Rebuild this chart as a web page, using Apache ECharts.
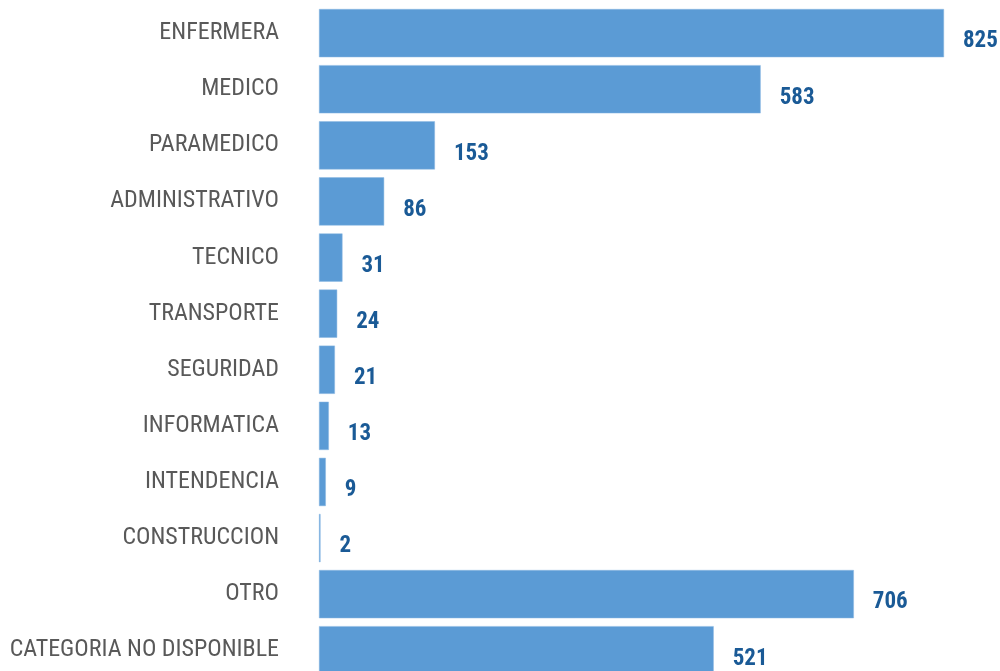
<!DOCTYPE html>
<html>
<head>
<meta charset="utf-8">
<script src="https://cdn.jsdelivr.net/npm/echarts@6/dist/echarts.min.js"></script>
<style>html,body{margin:0;padding:0;background:#fff}#c{width:1000px;height:671px}</style>
</head>
<body>
<div id="c"></div>
<script>
const categories = ["ENFERMERA","MEDICO","PARAMEDICO","ADMINISTRATIVO","TECNICO","TRANSPORTE","SEGURIDAD","INFORMATICA","INTENDENCIA","CONSTRUCCION","OTRO","CATEGORIA NO DISPONIBLE"];
const values = [825,583,153,86,31,24,21,13,9,2,706,521];

const FONT = "'Roboto Condensed','Liberation Sans Narrow','DejaVu Sans Condensed',Roboto,sans-serif";
const chart = echarts.init(document.getElementById('c'), null, {renderer:'canvas'});
chart.setOption({
  animation:false,
  grid:{left:319, width:625, top:5.1, height:673.2, containLabel:false, outerBoundsMode:'none'},
  xAxis:{type:'value', min:0, max:825, show:false},
  yAxis:{type:'category', inverse:true, data:categories,
    axisLine:{show:false}, axisTick:{show:false}, splitLine:{show:false},
    axisLabel:{margin:40, color:'#595959', fontSize:24, fontFamily:FONT, padding:[9,0,0,0]}},
  series:[{type:'bar', data:values, barCategoryGap:'14%',
    itemStyle:{color:'#5b9bd5', borderColor:'#8db8e3', borderWidth:0.5},
    label:{show:true, position:'right', distance:19, offset:[0,8.5],
      color:'#1a5a96', fontWeight:'bold', fontSize:23, fontFamily:FONT}}]
});
</script>
</body>
</html>
